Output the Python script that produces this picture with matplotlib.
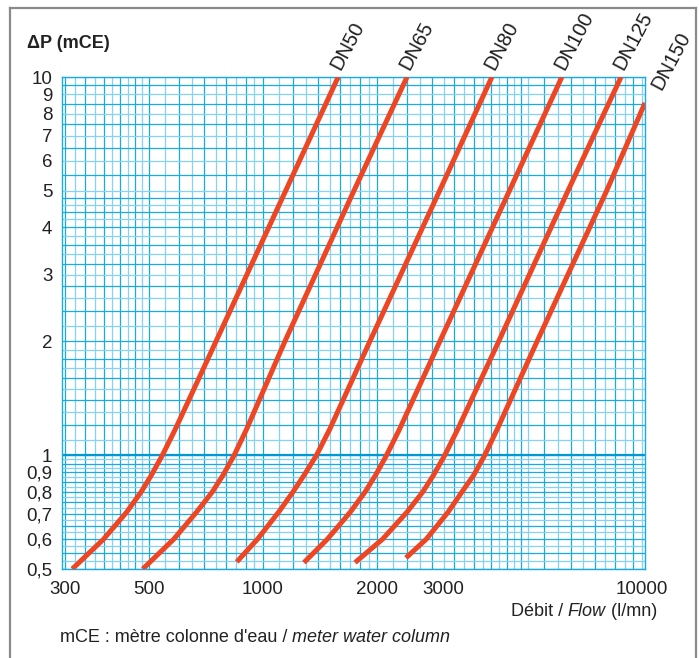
import numpy as np
import matplotlib
matplotlib.use("Agg")
import matplotlib.pyplot as plt
from matplotlib.lines import Line2D

plt.rcParams['font.family'] = ['Liberation Sans', 'DejaVu Sans']

# Pertes de charge par diamètre : débit (l/mn) et ΔP (mCE)
labels = ['DN50', 'DN65', 'DN80', 'DN100', 'DN125', 'DN150']

dp_dn50 = [0.5, 0.6, 0.707, 0.799, 0.886, 1.0, 1.17, 2.0, 5.0, 10.0]
q_dn50 = [314, 380, 437, 477, 508, 543, 587, 752, 1148, 1580]

dp_dn65 = [0.5, 0.6, 0.707, 0.799, 0.886, 1.0, 1.17, 2.0, 5.0, 10.0]
q_dn65 = [482, 582, 668, 735, 785, 840, 905, 1143, 1738, 2400]

dp_dn80 = [0.522, 0.6, 0.707, 0.799, 0.886, 1.0, 1.17, 2.0, 5.0, 10.0]
q_dn80 = [853, 968, 1100, 1200, 1285, 1385, 1500, 1915, 2925, 4020]

dp_dn100 = [0.52, 0.6, 0.707, 0.799, 0.886, 1.0, 1.17, 2.0, 5.0, 10.0]
q_dn100 = [1283, 1480, 1700, 1860, 1983, 2120, 2292, 2930, 4470, 6150]

dp_dn125 = [0.52, 0.6, 0.707, 0.799, 0.886, 1.0, 1.17, 2.0, 5.0, 10.0]
q_dn125 = [1750, 2070, 2400, 2640, 2820, 3020, 3265, 4190, 6380, 8810]

dp_dn150 = [0.535, 0.6, 0.707, 0.799, 0.886, 1.0, 1.17, 2.0, 5.0, 8.54]
q_dn150 = [2384, 2700, 3080, 3350, 3600, 3850, 4150, 5290, 8070, 10190]

curves = [(q_dn50, dp_dn50), (q_dn65, dp_dn65), (q_dn80, dp_dn80),
          (q_dn100, dp_dn100), (q_dn125, dp_dn125), (q_dn150, dp_dn150)]

x_ticks = [300, 500, 1000, 2000, 3000, 10000]
y_ticks = [0.5, 0.6, 0.7, 0.8, 0.9, 1, 2, 3, 4, 5, 6, 7, 8, 9, 10]
y_ticklabels = ['0,5', '0,6', '0,7', '0,8', '0,9', '1', '2', '3', '4', '5',
                '6', '7', '8', '9', '10']

fig = plt.figure(figsize=(6.99, 6.58), dpi=100)
ax = fig.add_axes([62 / 699, 1 - 569 / 658, (645 - 62) / 699, (569 - 77) / 658])
ax.set_xscale('log')
ax.set_yscale('log')
ax.set_xlim(295, 10190)
ax.set_ylim(0.5, 10)

# papier logarithmique
blue = '#1AAAE3'
light = '#86D2F2'
gx = np.concatenate([np.arange(300, 500, 20), np.arange(500, 1000, 50),
                     np.arange(1000, 2000, 100), np.arange(2000, 5000, 200),
                     np.arange(5000, 10200, 500)])
for i, v in enumerate(gx):
    ax.axvline(v, color=blue if i % 2 == 0 else light, lw=0.9, zorder=1)
gy = np.concatenate([np.arange(0.5, 1.0, 0.025), np.arange(1.0, 2.0, 0.1),
                     np.arange(2.0, 5.0, 0.2), np.arange(5.0, 10.01, 0.5)])
for i, v in enumerate(gy):
    ax.axhline(v, color=blue if i % 2 == 0 else light, lw=0.9, zorder=1)
ax.axhline(1.0, color='#0098D6', lw=1.6, zorder=1)

for s in ax.spines.values():
    s.set_color(blue)
    s.set_linewidth(1.0)

for (q, dp), name in zip(curves, labels):
    ax.plot(q, dp, color='#EE4523', lw=3.6, solid_capstyle='butt',
            solid_joinstyle='round', zorder=3)
    off = (14, 7) if name == 'DN150' else (4, 3)
    ax.annotate(name, xy=(q[-1], dp[-1]), xytext=off, textcoords='offset points',
                rotation=62, rotation_mode='anchor', ha='left', va='bottom',
                fontsize=14.5, color='#1E1E1E', annotation_clip=False)

ax.set_xticks(x_ticks)
ax.set_xticklabels([str(t) for t in x_ticks])
ax.set_yticks(y_ticks)
ax.set_yticklabels(y_ticklabels)
ax.minorticks_off()
ax.tick_params(length=0, labelsize=13.5, colors='#222222', pad=7)
ax.tick_params(axis='x', pad=9)

fig.text(27 / 699, 1 - 43 / 658, 'ΔP (mCE)', fontsize=13, fontweight='bold',
         va='center', ha='left', color='#222222')


def write_parts(x, y, parts, ha='left'):
    # suite de morceaux de texte, certains en italique, posés bout à bout
    fig.canvas.draw()
    r = fig.canvas.get_renderer()
    arts = []
    for txt, st in parts:
        t = fig.text(0, y, txt, fontsize=13, style=st, va='center',
                     color='#222222')
        arts.append(t)
    widths = [a.get_window_extent(r).width / fig.bbox.width for a in arts]
    start = x if ha == 'left' else x - sum(widths)
    for a, w in zip(arts, widths):
        a.set_x(start)
        start += w


write_parts(657 / 699, 1 - 612 / 658,
            [('Débit / ', 'normal'), ('Flow', 'italic'), (' (l/mn)', 'normal')],
            ha='right')
write_parts(60 / 699, 1 - 637 / 658,
            [("mCE : mètre colonne d'eau / ", 'normal'), ('meter water column', 'italic')])

# cadre gris
for xs, ys in [([10, 10], [8, 660]), ([10, 696], [8, 8]), ([696, 696], [8, 660])]:
    fig.add_artist(Line2D([x / 699 for x in xs], [1 - y / 658 for y in ys],
                          color='#8A8A8A', lw=1.6, transform=fig.transFigure))

fig.savefig('out.png', dpi=100)
